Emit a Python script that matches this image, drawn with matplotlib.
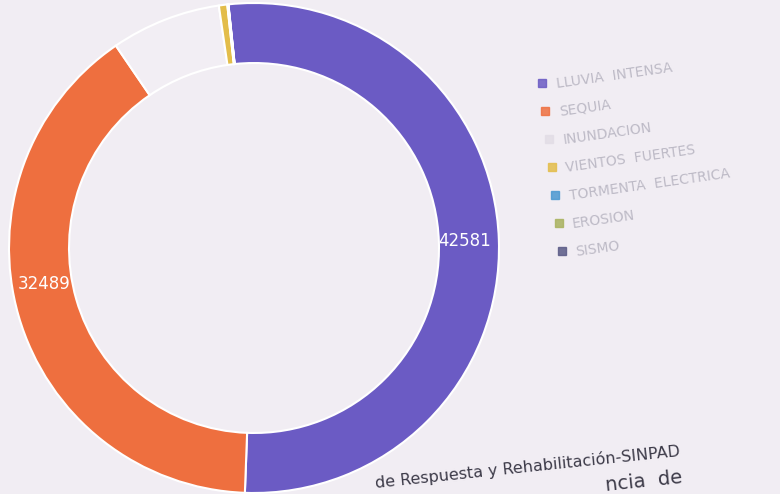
import matplotlib.pyplot as plt
from matplotlib.patches import Rectangle

categories = ["LLUVIA INTENSA", "SEQUIA", "INUNDACION", "VIENTOS FUERTES",
              "TORMENTA ELECTRICA", "EROSION", "SISMO"]
values = [42581, 32489, 5900, 450, 30, 20, 10]
shown_labels = {0: "42581", 1: "32489"}
colors = ["#6b5bc4", "#ee6f3f", "#f2eef4", "#e3bd4a",
          "#4a98d0", "#a9b25e", "#5a5a86"]

paper = "#f1edf3"

fig = plt.figure(figsize=(7.8, 4.94), dpi=100)
fig.patch.set_facecolor(paper)

# donut, centre at (254, 248) px, radius 245 px
cx, cy, r = 254, 248, 245
W, H = 780, 494
ax = fig.add_axes([(cx - r) / W, (H - cy - r) / H, 2 * r / W, 2 * r / H])
ax.set_facecolor(paper)
wedges, _ = ax.pie(values, colors=colors, startangle=96, counterclock=False,
                   radius=1, wedgeprops=dict(width=0.245, edgecolor="white",
                                             linewidth=1.5))
ax.set_xlim(-1, 1)
ax.set_ylim(-1, 1)
ax.set_aspect("equal")
ax.axis("off")

# value labels on the two big slices
label_pos = {0: (0.86, 0.03), 1: (-0.855, -0.145)}
for i, txt in shown_labels.items():
    x, y = label_pos[i]
    ax.text(x, y, txt, color="white", fontsize=12, ha="center", va="center")

# legend, slightly tilted like the printed page
for i, (name, col) in enumerate(zip(categories, colors)):
    sx = 542 + i * 3.3
    sy = 83 + i * 28
    fig.patches.append(Rectangle(((sx - 4) / W, 1 - (sy + 4) / H), 8 / W, 8 / H,
                                 transform=fig.transFigure,
                                 color=col if i != 2 else "#e2dde6",
                                 alpha=0.85))
    fig.text((sx + 14) / W, 1 - (sy + 1) / H, "  ".join(name.split(" ")),
             fontsize=10, color="#bdbac6", ha="left", va="center",
             rotation=8, rotation_mode="anchor")

# source line at the bottom of the page
fig.text(376 / W, 1 - 488 / H, "de Respuesta y Rehabilitación-SINPAD",
         fontsize=11.5, color="#3c3a48", rotation=6, rotation_mode="anchor")
fig.text(606 / W, 1 - 491 / H, "ncia  de", fontsize=14, color="#3c3a48",
         rotation=6, rotation_mode="anchor")

fig.savefig("out.png", dpi=100, facecolor=paper)
